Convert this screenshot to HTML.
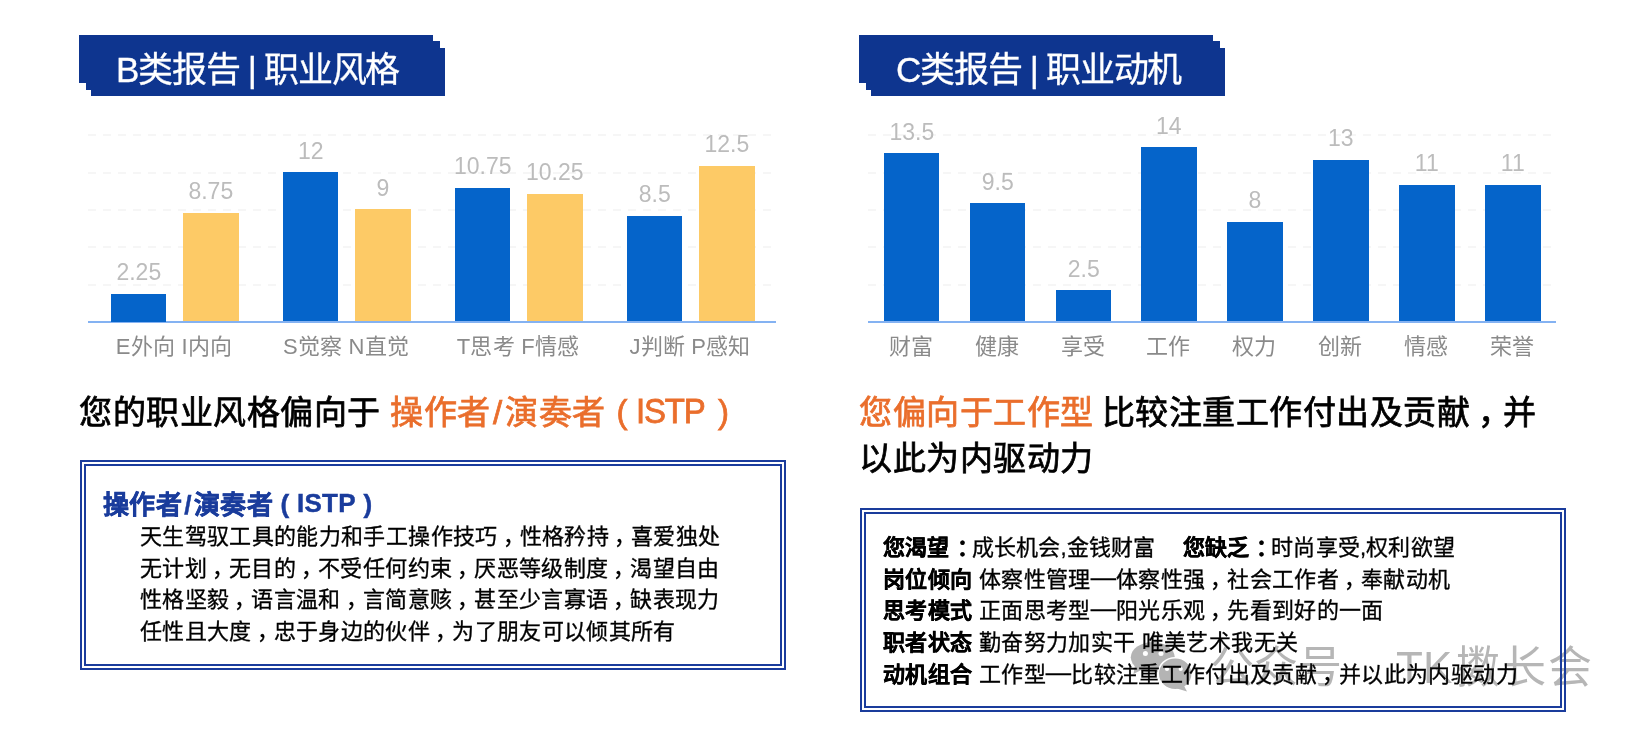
<!DOCTYPE html>
<html lang="zh-CN"><head><meta charset="utf-8"><style>
html,body{margin:0;padding:0;background:#fff;width:1646px;height:734px;overflow:hidden;position:relative;font-family:"Liberation Sans",sans-serif}
div{position:absolute;white-space:nowrap}
.body,.hl,.cat,.val,.bxt,.bt,.wm{will-change:transform}
.bn{width:354px;height:48.3px;background:#0e358f}
.bt{-webkit-text-stroke-width:0.3px;color:#fff;font-size:35px;letter-spacing:-1.25px;line-height:66px;height:66px}
.gl{height:2px;background:repeating-linear-gradient(90deg,#f6f6f6 0 8px,transparent 8px 15px)}
.ax{height:2px;background:#84b2f2}
.val{color:#bcbcbc;font-size:23px;line-height:30px;text-align:center}
.cat{color:#8a8a8a;font-size:22px;line-height:30px;text-align:center;letter-spacing:0.2px}
.hl{-webkit-text-stroke-width:0.75px;color:#000;font-size:33px;letter-spacing:0.5px;line-height:40px}
.box{border:6px double #1a3c9c}
.bxt{-webkit-text-stroke-width:0.45px;color:#1a3c9c;font-size:26px;letter-spacing:0.3px;line-height:34px;font-weight:bold}
.body{-webkit-text-stroke-width:0.32px;color:#000;font-size:22px;letter-spacing:0.35px;line-height:30px}
.rb{letter-spacing:0.35px}
.cm{display:inline-block;width:1em;text-indent:0.23em}
.co{display:inline-block;width:1em;text-indent:0.32em}
.pr{display:inline-block;width:0.92em;text-align:center}
.sl{display:inline-block;width:0.44em;text-align:center}
.is{letter-spacing:-1.2px;display:inline-block;transform:translateY(-1px) scaleY(1.09);transform-origin:50% 74%}
.ds{display:inline-block;width:1.15em;text-align:center;transform:translateY(-2px) scaleX(1.15)}
.wm{color:#b6b6b6;font-size:44px;line-height:60px;font-weight:300}
</style></head><body>
<div class="bn" style="left:79px;top:35px"></div>
<div class="bn" style="left:85.6px;top:41.3px"></div>
<div class="bn" style="left:91px;top:47.6px"></div>
<div class="bt" style="left:115.5px;top:37px">B类报告 | 职业风格</div>
<div class="gl" style="left:88px;top:283.6px;width:688px"></div>
<div class="gl" style="left:88px;top:246.3px;width:688px"></div>
<div class="gl" style="left:88px;top:208.9px;width:688px"></div>
<div class="gl" style="left:88px;top:171.6px;width:688px"></div>
<div class="gl" style="left:88px;top:134.2px;width:688px"></div>
<div class="ax" style="left:88px;top:320.5px;width:688px"></div>
<div class="bar" style="left:110.5px;top:293.5px;width:55.6px;height:28.0px;background:#0564ca"></div>
<div class="val" style="left:70.5px;top:257.0px;width:135.6px">2.25</div>
<div class="bar" style="left:183.0px;top:212.6px;width:55.6px;height:108.9px;background:#fdca66"></div>
<div class="val" style="left:143.0px;top:176.1px;width:135.6px">8.75</div>
<div class="cat" style="left:74.0px;width:200px;top:331.6px">E外向 I内向</div>
<div class="bar" style="left:282.5px;top:172.1px;width:55.6px;height:149.4px;background:#0564ca"></div>
<div class="val" style="left:242.5px;top:135.6px;width:135.6px">12</div>
<div class="bar" style="left:355.0px;top:209.4px;width:55.6px;height:112.1px;background:#fdca66"></div>
<div class="val" style="left:315.0px;top:172.9px;width:135.6px">9</div>
<div class="cat" style="left:246.0px;width:200px;top:331.6px">S觉察 N直觉</div>
<div class="bar" style="left:454.5px;top:187.7px;width:55.6px;height:133.8px;background:#0564ca"></div>
<div class="val" style="left:414.5px;top:151.2px;width:135.6px">10.75</div>
<div class="bar" style="left:527.0px;top:193.9px;width:55.6px;height:127.6px;background:#fdca66"></div>
<div class="val" style="left:487.0px;top:157.4px;width:135.6px">10.25</div>
<div class="cat" style="left:418.0px;width:200px;top:331.6px">T思考 F情感</div>
<div class="bar" style="left:626.5px;top:215.7px;width:55.6px;height:105.8px;background:#0564ca"></div>
<div class="val" style="left:586.5px;top:179.2px;width:135.6px">8.5</div>
<div class="bar" style="left:699.0px;top:165.9px;width:55.6px;height:155.6px;background:#fdca66"></div>
<div class="val" style="left:659.0px;top:129.4px;width:135.6px">12.5</div>
<div class="cat" style="left:590.0px;width:200px;top:331.6px">J判断 P感知</div>
<div class="bn" style="left:859px;top:35px"></div>
<div class="bn" style="left:865.6px;top:41.3px"></div>
<div class="bn" style="left:871px;top:47.6px"></div>
<div class="bt" style="left:896px;top:37px">C类报告 | 职业动机</div>
<div class="gl" style="left:867.7px;top:283.6px;width:688.3px"></div>
<div class="gl" style="left:867.7px;top:246.3px;width:688.3px"></div>
<div class="gl" style="left:867.7px;top:208.9px;width:688.3px"></div>
<div class="gl" style="left:867.7px;top:171.6px;width:688.3px"></div>
<div class="gl" style="left:867.7px;top:134.2px;width:688.3px"></div>
<div class="ax" style="left:867.7px;top:320.5px;width:688.3px"></div>
<div class="bar" style="left:883.7px;top:153.4px;width:55.6px;height:168.1px;background:#0564ca"></div>
<div class="val" style="left:843.7px;top:116.9px;width:135.6px">13.5</div>
<div class="cat" style="left:810.7px;width:200px;top:331.6px">财富</div>
<div class="bar" style="left:969.6px;top:203.2px;width:55.6px;height:118.3px;background:#0564ca"></div>
<div class="val" style="left:929.6px;top:166.7px;width:135.6px">9.5</div>
<div class="cat" style="left:896.6px;width:200px;top:331.6px">健康</div>
<div class="bar" style="left:1055.5px;top:290.4px;width:55.6px;height:31.1px;background:#0564ca"></div>
<div class="val" style="left:1015.5px;top:253.9px;width:135.6px">2.5</div>
<div class="cat" style="left:982.5px;width:200px;top:331.6px">享受</div>
<div class="bar" style="left:1141.4px;top:147.2px;width:55.6px;height:174.3px;background:#0564ca"></div>
<div class="val" style="left:1101.4px;top:110.7px;width:135.6px">14</div>
<div class="cat" style="left:1068.4px;width:200px;top:331.6px">工作</div>
<div class="bar" style="left:1227.3px;top:221.9px;width:55.6px;height:99.6px;background:#0564ca"></div>
<div class="val" style="left:1187.3px;top:185.4px;width:135.6px">8</div>
<div class="cat" style="left:1154.3px;width:200px;top:331.6px">权力</div>
<div class="bar" style="left:1313.2px;top:159.7px;width:55.6px;height:161.8px;background:#0564ca"></div>
<div class="val" style="left:1273.2px;top:123.2px;width:135.6px">13</div>
<div class="cat" style="left:1240.2px;width:200px;top:331.6px">创新</div>
<div class="bar" style="left:1399.1px;top:184.6px;width:55.6px;height:136.9px;background:#0564ca"></div>
<div class="val" style="left:1359.1px;top:148.1px;width:135.6px">11</div>
<div class="cat" style="left:1326.1px;width:200px;top:331.6px">情感</div>
<div class="bar" style="left:1485.0px;top:184.6px;width:55.6px;height:136.9px;background:#0564ca"></div>
<div class="val" style="left:1445.0px;top:148.1px;width:135.6px">11</div>
<div class="cat" style="left:1412.0px;width:200px;top:331.6px">荣誉</div>
<div class="hl" style="left:79px;top:392.8px">您的职业风格偏向于 <span style="color:#ea6e2c">操作者<span class="sl">/</span>演奏者<span class="pr" style="text-indent:3px;position:relative;top:-1.5px">(</span><span class="is">ISTP</span><span class="pr" style="text-indent:8px;position:relative;top:-1.5px">)</span></span></div>
<div class="hl" style="left:859px;top:392.8px"><span style="color:#ea6e2c">您偏向于工作型</span> <span style="margin-left:-1.5px">比较注重工作付出及贡献<span class="cm">，</span>并</span></div>
<div class="hl" style="left:859px;top:439.3px">以此为内驱动力</div>
<div class="box" style="left:79.5px;top:460px;width:694px;height:198px"></div>
<div class="bxt" style="left:103px;top:487.7px">操作者<span class="sl" style="width:0.47em">/</span>演奏者<span class="pr" style="position:relative;top:-1.5px">(</span><span style="position:relative;top:-2px">ISTP</span><span class="pr" style="position:relative;top:-1.5px">)</span></div>
<div class="body" style="left:140px;top:521.9px">天生驾驭工具的能力和手工操作技巧<span class="cm">，</span>性格矜持<span class="cm">，</span>喜爱独处</div>
<div class="body" style="left:140px;top:553.6px">无计划<span class="cm">，</span>无目的<span class="cm">，</span>不受任何约束<span class="cm">，</span>厌恶等级制度<span class="cm">，</span>渴望自由</div>
<div class="body" style="left:140px;top:585.3px">性格坚毅<span class="cm">，</span>语言温和<span class="cm">，</span>言简意赅<span class="cm">，</span>甚至少言寡语<span class="cm">，</span>缺表现力</div>
<div class="body" style="left:140px;top:617.0px">任性且大度<span class="cm">，</span>忠于身边的伙伴<span class="cm">，</span>为了朋友可以倾其所有</div>
<svg style="position:absolute;left:1120px;top:630px" width="80" height="70" viewBox="0 0 80 70">
<ellipse cx="32.8" cy="27.3" rx="22" ry="15.3" fill="#b4b4b4"/>
<path d="M15 35 L13.5 44 L24 38.5 Z" fill="#b4b4b4"/>
<ellipse cx="55.2" cy="43.7" rx="17" ry="16" fill="#b4b4b4" stroke="#fff" stroke-width="1.6"/>
<path d="M63 54 L67 61.5 L57 58.5 Z" fill="#b4b4b4"/>
<circle cx="25.4" cy="23.6" r="2.5" fill="#fff"/><circle cx="41" cy="23.6" r="2.5" fill="#fff"/>
<circle cx="47" cy="39" r="2.1" fill="#fff"/><circle cx="60.7" cy="39" r="2.1" fill="#fff"/>
</svg>
<div class="wm" style="left:1210px;top:638px">公众号</div>
<div class="wm" style="left:1396px;top:638px">TK</div>
<div class="wm" style="left:1456px;top:638px;letter-spacing:2px">擞长会</div>
<div class="box" style="left:860px;top:508px;width:694px;height:192px"></div>
<div class="body rb" style="left:883px;top:533.2px;letter-spacing:0.2px"><b>您渴望<span class="co">：</span></b>成长机会,金钱财富<span style="display:inline-block;width:27px"></span><b>您缺乏<span class="co">：</span></b>时尚享受,权利欲望</div>
<div class="body rb" style="left:883px;top:564.8px"><b>岗位倾向</b> 体察性管理<span class="ds">—</span>体察性强<span class="cm">，</span>社会工作者<span class="cm">，</span>奉献动机</div>
<div class="body rb" style="left:883px;top:596.4px"><b>思考模式</b> 正面思考型<span class="ds">—</span>阳光乐观<span class="cm">，</span>先看到好的一面</div>
<div class="body rb" style="left:883px;top:628.0px"><b>职者状态</b> 勤奋努力加实干 唯美艺术我无关</div>
<div class="body rb" style="left:883px;top:659.6px"><b>动机组合</b> 工作型<span class="ds">—</span>比较注重工作付出及贡献<span class="cm">，</span>并以此为内驱动力</div>
</body></html>
